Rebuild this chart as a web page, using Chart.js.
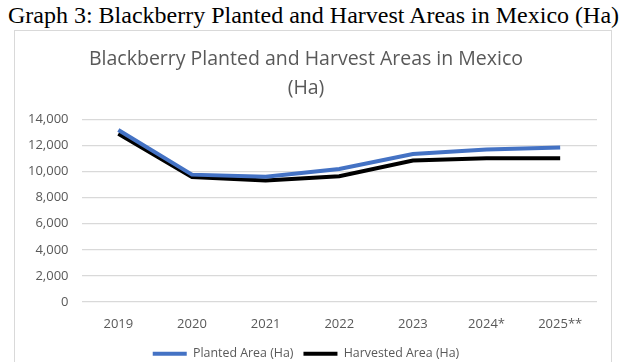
<!DOCTYPE html>
<html>
<head>
<meta charset="utf-8">
<script src="https://cdn.jsdelivr.net/npm/chart.js@4/dist/chart.umd.min.js"></script>
<style>
  body { margin: 0; background: #fff; width: 627px; height: 362px; overflow: hidden; position: relative; }
  #caption { position: absolute; left: 0; top: 1px; width: 627px; text-align: center; white-space: nowrap;
    font-family: "Liberation Serif", "Times New Roman", serif; font-size: 24px; color: #000; line-height: 28px; }
  #box { position: absolute; left: 14px; top: 30px; width: 596px; height: 345px;
    border: 1.5px solid #d9d9d9; }
</style>
</head>
<body>
<div id="caption">Graph 3: Blackberry Planted and Harvest Areas in Mexico (Ha)</div>
<div id="box"><canvas id="myChart"></canvas></div>
<script>
const years = ["2019", "2020", "2021", "2022", "2023", "2024*", "2025**"];
const planted = [13200, 9770, 9600, 10200, 11350, 11700, 11850];
const harvested = [12900, 9580, 9330, 9650, 10850, 11020, 11030];
const yTicks = [0, 2000, 4000, 6000, 8000, 10000, 12000, 14000];

const ctx = document.getElementById("myChart").getContext("2d");

new Chart(ctx, {
  type: "line",
  data: {
    labels: years,
    datasets: [
      {
        label: "Planted Area (Ha)",
        data: planted,
        borderColor: "#4472C4",
        backgroundColor: "#4472C4",
        borderWidth: 4,
        pointRadius: 0,
        tension: 0,
      },
      {
        label: "Harvested Area (Ha)",
        data: harvested,
        borderColor: "#000000",
        backgroundColor: "#000000",
        borderWidth: 4,
        pointRadius: 0,
        tension: 0,
      },
    ],
  },
  options: {
    responsive: true,
    maintainAspectRatio: false,
    animation: false,
    layout: { padding: { left: 0, right: 14, top: 6, bottom: 6 } },
    plugins: {
      title: {
        display: true,
        text: ["Blackberry Planted and Harvest Areas in Mexico", "(Ha)"],
        color: "#595959",
        font: { family: "Open Sans", size: 19.5, weight: "normal", lineHeight: 1.5 },
        padding: { top: 8, bottom: 16 },
      },
      legend: {
        position: "bottom",
        labels: {
          usePointStyle: true,
          pointStyle: "line",
          pointStyleWidth: 34,
          color: "#595959",
          font: { family: "Open Sans", size: 12.4 },
          padding: 10,
        },
      },
      tooltip: { enabled: false },
    },
    scales: {
      x: {
        offset: true,
        grid: { display: false },
        border: { display: false },
        ticks: { color: "#595959", font: { family: "Open Sans", size: 13 }, padding: 6 },
      },
      y: {
        min: 0,
        max: 14000,
        afterBuildTicks: (axis) => { axis.ticks = yTicks.map((v) => ({ value: v })); },
        grid: { color: "#d9d9d9", lineWidth: 1.2, drawTicks: false },
        border: { display: false },
        ticks: {
          color: "#595959",
          font: { family: "Open Sans", size: 13 },
          padding: 13,
          callback: (v) => v.toLocaleString("en-US"),
        },
      },
    },
  },
});
</script>
</body>
</html>
